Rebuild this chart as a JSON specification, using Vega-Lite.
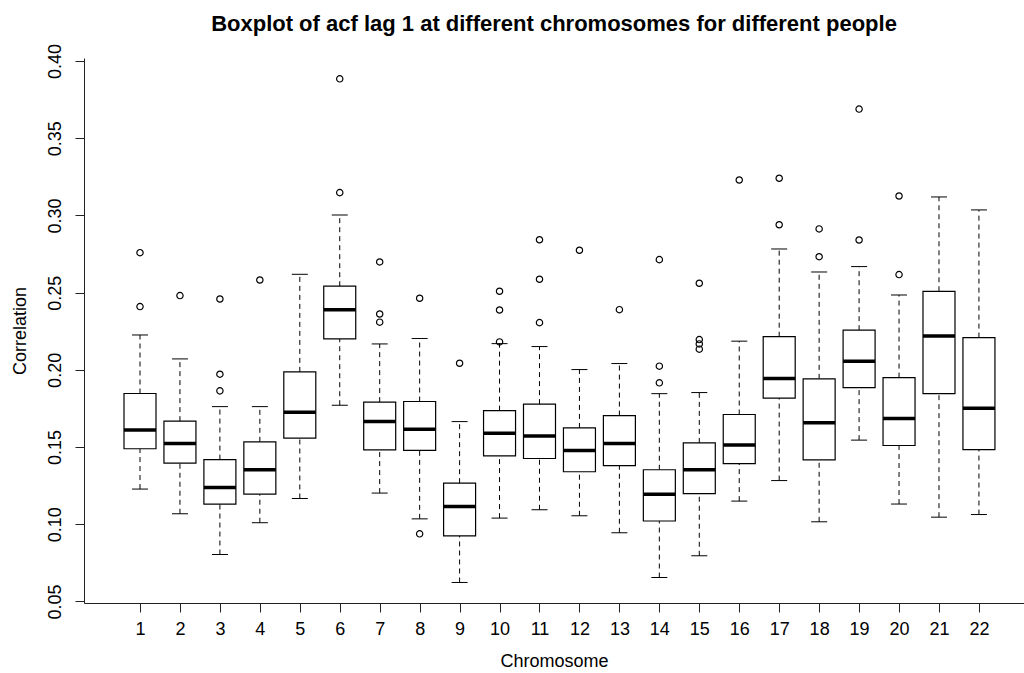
{
  "$schema": "https://vega.github.io/schema/vega-lite/v6.json",
  "width": 940,
  "height": 545,
  "autosize": {"type": "none"},
  "padding": {"left": 84, "top": 58, "right": 0, "bottom": 70},
  "background": "white",
  "title": {"text": "Boxplot of acf lag 1 at different chromosomes for different people", "font": "Liberation Sans", "fontSize": 22, "fontWeight": "bold", "color": "#000", "anchor": "middle", "offset": 8},
  "config": {
    "view": {"stroke": null},
    "axis": {"labelFont": "Liberation Sans", "titleFont": "Liberation Sans", "labelFontSize": 18, "titleFontSize": 18, "titleFontWeight": "normal", "labelColor": "#000", "titleColor": "#000", "domainColor": "#222", "tickColor": "#222", "grid": false, "tickSize": 9}
  },
  "datasets": {
    "boxes": [
      {"chr": 1, "lo": 0.1228, "q1": 0.1489, "med": 0.161, "q3": 0.1847, "hi": 0.2226},
      {"chr": 2, "lo": 0.1068, "q1": 0.1396, "med": 0.1523, "q3": 0.1668, "hi": 0.2071},
      {"chr": 3, "lo": 0.0804, "q1": 0.113, "med": 0.1238, "q3": 0.1419, "hi": 0.1762},
      {"chr": 4, "lo": 0.101, "q1": 0.1195, "med": 0.1353, "q3": 0.1534, "hi": 0.1762},
      {"chr": 5, "lo": 0.1167, "q1": 0.1558, "med": 0.1726, "q3": 0.1987, "hi": 0.2619},
      {"chr": 6, "lo": 0.1771, "q1": 0.2201, "med": 0.239, "q3": 0.2542, "hi": 0.3003},
      {"chr": 7, "lo": 0.1202, "q1": 0.1482, "med": 0.1665, "q3": 0.1791, "hi": 0.2168},
      {"chr": 8, "lo": 0.1035, "q1": 0.1478, "med": 0.1616, "q3": 0.1795, "hi": 0.2203},
      {"chr": 9, "lo": 0.0623, "q1": 0.0925, "med": 0.1115, "q3": 0.1266, "hi": 0.1665},
      {"chr": 10, "lo": 0.104, "q1": 0.1443, "med": 0.159, "q3": 0.1736, "hi": 0.217},
      {"chr": 11, "lo": 0.1094, "q1": 0.1426, "med": 0.1571, "q3": 0.1778, "hi": 0.2151},
      {"chr": 12, "lo": 0.1055, "q1": 0.134, "med": 0.1478, "q3": 0.1624, "hi": 0.2002},
      {"chr": 13, "lo": 0.0945, "q1": 0.138, "med": 0.1523, "q3": 0.1704, "hi": 0.2041},
      {"chr": 14, "lo": 0.0655, "q1": 0.1021, "med": 0.1195, "q3": 0.1353, "hi": 0.1846},
      {"chr": 15, "lo": 0.0796, "q1": 0.1199, "med": 0.1353, "q3": 0.1527, "hi": 0.1853},
      {"chr": 16, "lo": 0.115, "q1": 0.1393, "med": 0.1514, "q3": 0.1711, "hi": 0.2186},
      {"chr": 17, "lo": 0.1283, "q1": 0.1817, "med": 0.1944, "q3": 0.2215, "hi": 0.2783},
      {"chr": 18, "lo": 0.1016, "q1": 0.1417, "med": 0.1657, "q3": 0.1942, "hi": 0.2634},
      {"chr": 19, "lo": 0.1545, "q1": 0.1885, "med": 0.2056, "q3": 0.2257, "hi": 0.2669},
      {"chr": 20, "lo": 0.1131, "q1": 0.151, "med": 0.1685, "q3": 0.195, "hi": 0.2485},
      {"chr": 21, "lo": 0.1046, "q1": 0.1846, "med": 0.222, "q3": 0.2509, "hi": 0.312},
      {"chr": 22, "lo": 0.1063, "q1": 0.1484, "med": 0.1752, "q3": 0.2209, "hi": 0.3036}
    ],
    "outliers": [
      {"chr": 1, "value": 0.2759}, {"chr": 1, "value": 0.241},
      {"chr": 2, "value": 0.2481},
      {"chr": 3, "value": 0.2459}, {"chr": 3, "value": 0.1972}, {"chr": 3, "value": 0.1864},
      {"chr": 4, "value": 0.2582},
      {"chr": 6, "value": 0.3885}, {"chr": 6, "value": 0.3148},
      {"chr": 7, "value": 0.2699}, {"chr": 7, "value": 0.2362}, {"chr": 7, "value": 0.2309},
      {"chr": 8, "value": 0.2464}, {"chr": 8, "value": 0.0938},
      {"chr": 9, "value": 0.2043},
      {"chr": 10, "value": 0.2509}, {"chr": 10, "value": 0.2388}, {"chr": 10, "value": 0.2181},
      {"chr": 11, "value": 0.2843}, {"chr": 11, "value": 0.2587}, {"chr": 11, "value": 0.2306},
      {"chr": 12, "value": 0.2775},
      {"chr": 13, "value": 0.239},
      {"chr": 14, "value": 0.2714}, {"chr": 14, "value": 0.2024}, {"chr": 14, "value": 0.1916},
      {"chr": 15, "value": 0.2561}, {"chr": 15, "value": 0.2196}, {"chr": 15, "value": 0.2168}, {"chr": 15, "value": 0.2134},
      {"chr": 16, "value": 0.323},
      {"chr": 17, "value": 0.3241}, {"chr": 17, "value": 0.294},
      {"chr": 18, "value": 0.2913}, {"chr": 18, "value": 0.2733},
      {"chr": 19, "value": 0.3689}, {"chr": 19, "value": 0.2841},
      {"chr": 20, "value": 0.3126}, {"chr": 20, "value": 0.2617}
    ]
  },
  "layer": [
    {
      "data": {"name": "boxes"},
      "mark": {"type": "rule", "strokeDash": [5, 4], "color": "#000", "strokeWidth": 1},
      "encoding": {
        "x": {"field": "chr", "type": "quantitative", "scale": {"domain": [-0.4018, 23.128], "nice": false, "zero": false, "padding": 0},
              "axis": {"title": "Chromosome", "values": [1,2,3,4,5,6,7,8,9,10,11,12,13,14,15,16,17,18,19,20,21,22], "format": "d", "labelPadding": 8, "titlePadding": 14, "labelFlush": false, "labelOverlap": false}},
        "y": {"field": "lo", "type": "quantitative", "scale": {"domain": [0.049, 0.402], "nice": false, "zero": false, "padding": 0},
              "axis": {"title": "Correlation", "values": [0.05, 0.10, 0.15, 0.20, 0.25, 0.30, 0.35, 0.40], "format": ".2f", "labelAngle": -90, "labelPadding": 11, "titlePadding": 17, "labelFlush": false, "labelOverlap": false}},
        "y2": {"field": "q1"}
      }
    },
    {
      "data": {"name": "boxes"},
      "mark": {"type": "rule", "strokeDash": [5, 4], "color": "#000", "strokeWidth": 1},
      "encoding": {
        "x": {"field": "chr", "type": "quantitative"},
        "y": {"field": "q3", "type": "quantitative"},
        "y2": {"field": "hi"}
      }
    },
    {
      "data": {"name": "boxes"},
      "mark": {"type": "tick", "orient": "horizontal", "size": 16, "thickness": 1, "color": "#000", "opacity": 1},
      "encoding": {
        "x": {"field": "chr", "type": "quantitative"},
        "y": {"field": "lo", "type": "quantitative"}
      }
    },
    {
      "data": {"name": "boxes"},
      "mark": {"type": "tick", "orient": "horizontal", "size": 16, "thickness": 1, "color": "#000", "opacity": 1},
      "encoding": {
        "x": {"field": "chr", "type": "quantitative"},
        "y": {"field": "hi", "type": "quantitative"}
      }
    },
    {
      "data": {"name": "boxes"},
      "mark": {"type": "bar", "width": 32, "fill": "white", "stroke": "#000", "strokeWidth": 1.2},
      "encoding": {
        "x": {"field": "chr", "type": "quantitative"},
        "y": {"field": "q1", "type": "quantitative"},
        "y2": {"field": "q3"}
      }
    },
    {
      "data": {"name": "boxes"},
      "mark": {"type": "tick", "orient": "horizontal", "size": 32, "thickness": 3.5, "color": "#000", "opacity": 1},
      "encoding": {
        "x": {"field": "chr", "type": "quantitative"},
        "y": {"field": "med", "type": "quantitative"}
      }
    },
    {
      "data": {"name": "outliers"},
      "mark": {"type": "point", "shape": "circle", "filled": false, "size": 40, "stroke": "#000", "strokeWidth": 1.2, "opacity": 1},
      "encoding": {
        "x": {"field": "chr", "type": "quantitative"},
        "y": {"field": "value", "type": "quantitative"}
      }
    },
    {
      "mark": {"type": "rule", "color": "#222", "strokeWidth": 1},
      "encoding": {"y": {"datum": 0.402, "type": "quantitative"}}
    }
  ]
}
